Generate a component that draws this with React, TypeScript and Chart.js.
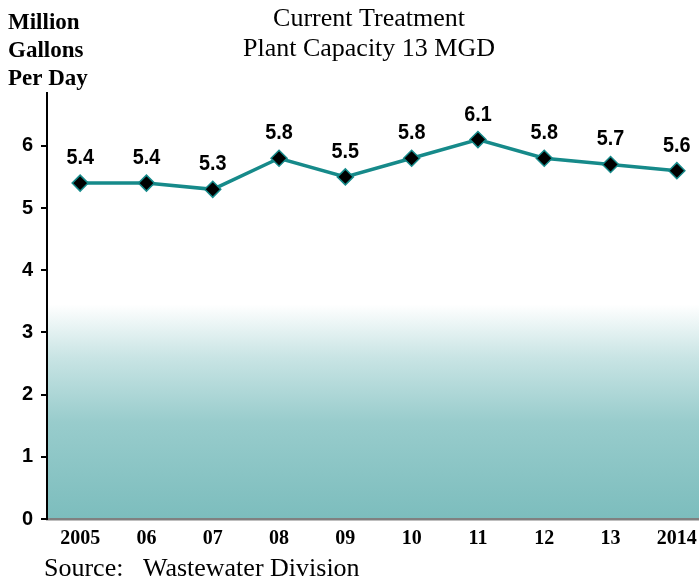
import React, { useEffect, useRef } from "react";
import { Chart, registerables } from "chart.js";

Chart.register(...registerables);

const years = ["2005", "06", "07", "08", "09", "10", "11", "12", "13", "2014"];
const values = [5.4, 5.4, 5.3, 5.8, 5.5, 5.8, 6.1, 5.8, 5.7, 5.6];
const yTicks = [0, 1, 2, 3, 4, 5, 6];
const titleLines = ["Current Treatment", "Plant Capacity 13 MGD"];
const yTitleLines = ["Million", "Gallons", "Per Day"];
const sourceText = "Source:   Wastewater Division";

const TEAL = "rgb(22,138,138)";

const decorPlugin = {
  id: "decor",
  beforeDraw(chart: any) {
    const { ctx, chartArea, scales } = chart;
    const yTop = scales.y.getPixelForValue(3.45);
    const yBot = chartArea.bottom;
    const g = ctx.createLinearGradient(0, yTop, 0, yBot);
    g.addColorStop(0, "rgb(255,255,255)");
    g.addColorStop(0.25, "rgb(200,228,228)");
    g.addColorStop(0.55, "rgb(152,204,204)");
    g.addColorStop(1, "rgb(124,189,189)");
    ctx.save();
    ctx.fillStyle = g;
    ctx.fillRect(chartArea.left, yTop, chartArea.right - chartArea.left, yBot - yTop);
    ctx.restore();
  },
  afterDraw(chart: any) {
    const { ctx, scales } = chart;
    ctx.save();
    ctx.fillStyle = "#000";
    // title
    ctx.font = "26px 'Liberation Serif', serif";
    ctx.textAlign = "center";
    ctx.textBaseline = "alphabetic";
    titleLines.forEach((t, i) => ctx.fillText(t, 369, 26 + i * 30));
    // y title
    ctx.font = "bold 23px 'Liberation Serif', serif";
    ctx.textAlign = "left";
    yTitleLines.forEach((t, i) => ctx.fillText(t, 8, 29 + i * 28));
    // source
    ctx.font = "26px 'Liberation Serif', serif";
    ctx.fillText(sourceText, 44, 576);
    // data labels (slightly condensed bold sans)
    ctx.font = "bold 22px 'Liberation Sans', Arial, sans-serif";
    ctx.textAlign = "center";
    values.forEach((v, i) => {
      const x = scales.x.getPixelForValue(i);
      const y = scales.y.getPixelForValue(v);
      ctx.save();
      ctx.translate(x, y - 19);
      ctx.scale(0.9, 1);
      ctx.fillText(v.toFixed(1), 0, 0);
      ctx.restore();
    });
    ctx.restore();
  },
};

export default function App() {
  const ref = useRef<HTMLCanvasElement>(null);
  useEffect(() => {
    if (!ref.current) return;
    const chart = new Chart(ref.current, {
      type: "line",
      data: {
        datasets: [
          {
            data: values.map((v, i) => ({ x: i, y: v })),
            borderColor: TEAL,
            borderWidth: 3.5,
            pointStyle: "rectRot",
            pointRadius: 8,
            pointBackgroundColor: "#000",
            pointBorderColor: TEAL,
            pointBorderWidth: 1.5,
            tension: 0,
            fill: false,
          },
        ],
      },
      plugins: [decorPlugin],
      options: {
        animation: false,
        responsive: false,
        maintainAspectRatio: false,
        layout: { autoPadding: false, padding: { top: 93, left: 0, right: 0, bottom: 0 } },
        plugins: { legend: { display: false }, tooltip: { enabled: false }, title: { display: false } },
        scales: {
          x: {
            type: "linear",
            min: -0.5,
            max: -0.5 + 652 / 66.3,
            afterBuildTicks: (s: any) => {
              s.ticks = years.map((_, i) => ({ value: i }));
            },
            afterFit: (s: any) => {
              s.height = 63;
              s.paddingLeft = 0;
              s.paddingRight = 0;
            },
            ticks: {
              autoSkip: false,
              maxRotation: 0,
              padding: 8,
              color: "#000",
              font: { family: "'Liberation Serif', serif", weight: "bold", size: 20 },
              callback: (v: any) => years[v as number] ?? "",
            },
            grid: { display: false, drawTicks: false },
            border: { display: true, color: "#808080", width: 2.5 },
          },
          y: {
            min: 0,
            max: (519 - 93) / 62.2,
            afterBuildTicks: (s: any) => {
              s.ticks = yTicks.map((v) => ({ value: v }));
            },
            afterFit: (s: any) => {
              s.width = 47;
              s.paddingTop = 0;
              s.paddingBottom = 0;
            },
            ticks: {
              padding: 8,
              color: "#000",
              font: { family: "'Liberation Sans', Arial, sans-serif", weight: "bold", size: 20 },
            },
            grid: { display: true, drawOnChartArea: false, drawTicks: true, tickLength: 6, color: "#000", lineWidth: 2 },
            border: { display: true, color: "#000", width: 2 },
          },
        },
      },
    } as any);
    return () => chart.destroy();
  }, []);
  return (
    <div style={{ position: "fixed", left: 0, top: 0, width: 699, height: 582, background: "#fff" }}>
      <canvas ref={ref} width={699} height={582} style={{ width: 699, height: 582, display: "block" }} />
    </div>
  );
}
